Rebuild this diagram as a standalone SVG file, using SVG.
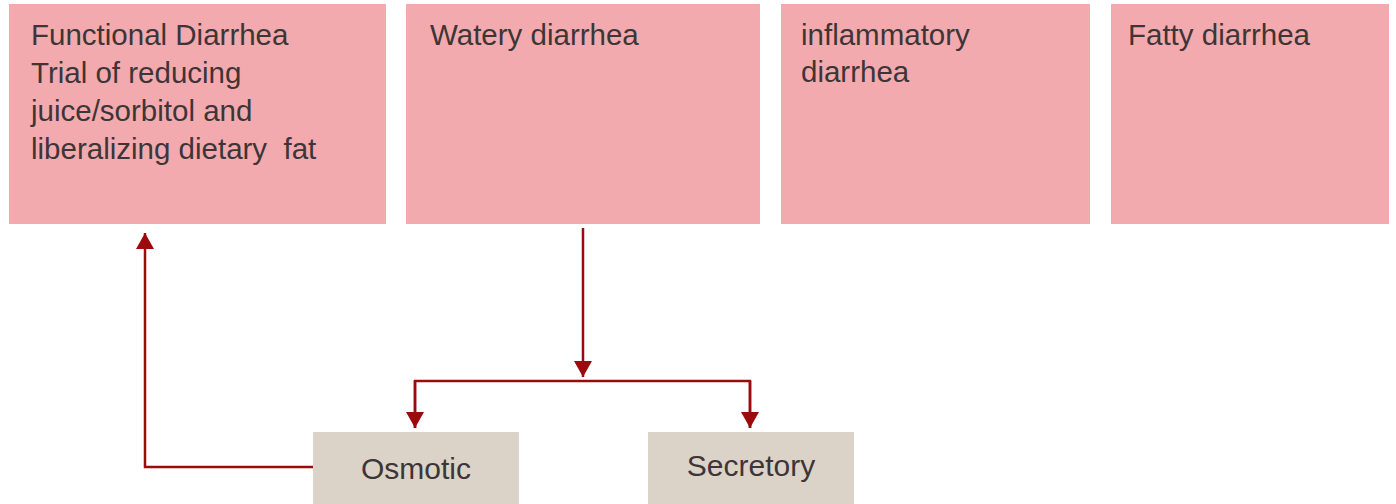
<svg xmlns="http://www.w3.org/2000/svg" width="1396" height="504" viewBox="0 0 1396 504">
<style>
.pink{fill:#f3aaae}
.tan{fill:#dbd3c7}
.t{font-family:"Liberation Sans",Arial,sans-serif;font-size:29.5px;fill:#3d3537}
.b{font-size:30px}
.c{text-anchor:middle}
.ln{fill:none;stroke:#9b0b0e;stroke-width:2.5}
</style>
<defs>
<marker id="ah" markerUnits="userSpaceOnUse" markerWidth="16" markerHeight="18" refX="16" refY="9" orient="auto">
<path d="M0,0 L16,9 L0,18 z" fill="#9b0b0e"/>
</marker>
</defs>
<rect width="1396" height="504" fill="#ffffff"/>
<g id="functional">
<rect class="pink" x="9" y="4" width="377" height="220"/>
<text class="t" x="31" y="45">Functional Diarrhea</text>
<text class="t" x="31" y="83">Trial of reducing</text>
<text class="t" x="31" y="121">juice/sorbitol and</text>
<text class="t" x="31" y="159">liberalizing dietary&#160; fat</text>
</g>
<g id="watery">
<rect class="pink" x="406" y="4" width="354" height="220"/>
<text class="t" x="430" y="45">Watery diarrhea</text>
</g>
<g id="inflammatory">
<rect class="pink" x="781" y="4" width="309" height="220"/>
<text class="t" x="801" y="45">inflammatory</text>
<text class="t" x="801" y="82">diarrhea</text>
</g>
<g id="fatty">
<rect class="pink" x="1111" y="4" width="278" height="220"/>
<text class="t" x="1128" y="45">Fatty diarrhea</text>
</g>
<g id="osmotic">
<rect class="tan" x="313" y="432" width="206" height="72"/>
<text class="t b c" x="416" y="479">Osmotic</text>
</g>
<g id="secretory">
<rect class="tan" x="648" y="432" width="206" height="72"/>
<text class="t b c" x="751" y="476">Secretory</text>
</g>
<g id="connectors">
<path class="ln" d="M583,228 V377" marker-end="url(#ah)"/>
<path class="ln" d="M415,428 V381 H750 V428"/>
<path class="ln" d="M415,381 V428" marker-end="url(#ah)"/>
<path class="ln" d="M750,381 V428" marker-end="url(#ah)"/>
<path class="ln" d="M313,467 H145 V233" marker-end="url(#ah)"/>
</g>
</svg>
